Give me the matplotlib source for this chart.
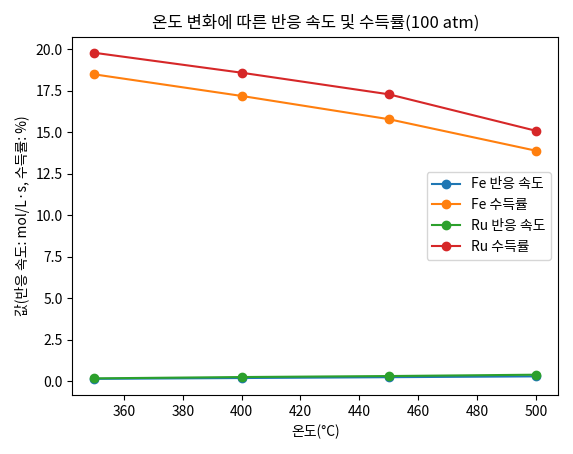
import matplotlib

matplotlib.use("Agg")
import matplotlib.pyplot as plt

plt.rcParams["font.family"] = ["Noto Sans CJK KR", "DejaVu Sans"]

temps = [350, 400, 450, 500]
fe_rate = [0.15, 0.2, 0.25, 0.3]
fe_yield = [18.5, 17.2, 15.8, 13.9]
ru_rate = [0.18, 0.26, 0.32, 0.4]
ru_yield = [19.8, 18.6, 17.3, 15.1]

fig, ax = plt.subplots(figsize=(5.73, 4.54), dpi=100)
ax.plot(temps, fe_rate, marker="o", label="Fe 반응 속도")
ax.plot(temps, fe_yield, marker="o", label="Fe 수득률")
ax.plot(temps, ru_rate, marker="o", label="Ru 반응 속도")
ax.plot(temps, ru_yield, marker="o", label="Ru 수득률")
ax.set_title("온도 변화에 따른 반응 속도 및 수득률(100 atm)")
ax.set_xlabel("온도(°C)")
ax.set_ylabel("값(반응 속도: mol/L·s, 수득률: %)")
ax.legend(loc="center right")
fig.tight_layout()
fig.savefig("out.png", dpi=100)
